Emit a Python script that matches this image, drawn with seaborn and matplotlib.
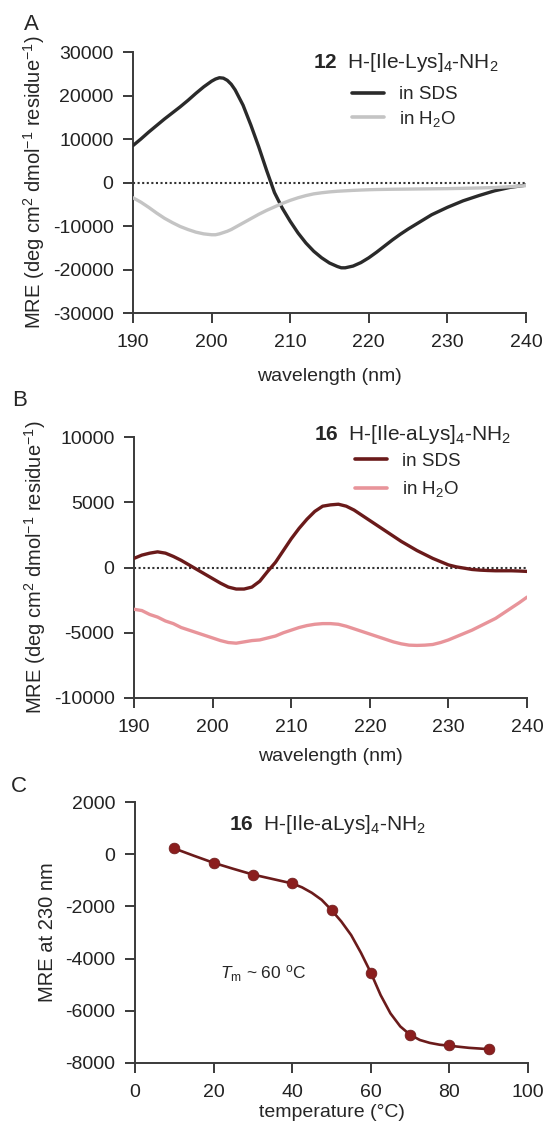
import numpy as np
import pandas as pd
import seaborn as sns
import matplotlib.pyplot as plt

# panel A: peptide 12, CD spectra
wl_a = [190, 191, 192, 193, 194, 195, 196, 197, 198, 199, 200, 200.5, 201, 201.5, 202,
        202.5, 203, 204, 205, 206, 207, 208, 209, 210, 211, 212, 213, 214, 215, 216,
        216.5, 217, 218, 219, 220, 221, 222, 223, 224, 225, 226, 228, 230, 232, 234,
        236, 238, 240]
sds_a = [8500, 10000, 11600, 13100, 14600, 16000, 17400, 18900, 20500, 22000, 23300,
         23800, 24100, 24000, 23500, 22600, 21300, 17800, 13200, 8200, 2800, -2300,
         -5900, -8900, -11600, -13900, -15800, -17300, -18500, -19300, -19600, -19600,
         -19200, -18400, -17300, -16000, -14600, -13200, -11900, -10700, -9600, -7400,
         -5700, -4200, -3000, -1900, -1100, -600]
h2o_a = [-3500, -4500, -5700, -7000, -8200, -9200, -10100, -10800, -11400, -11800,
         -12000, -12000, -11800, -11500, -11200, -10800, -10300, -9300, -8300, -7300,
         -6400, -5600, -4800, -4100, -3500, -3000, -2600, -2350, -2150, -2000, -1950,
         -1900, -1800, -1720, -1650, -1600, -1570, -1540, -1520, -1500, -1480, -1440,
         -1400, -1330, -1250, -1150, -950, -700]

# panel B: peptide 16, CD spectra
wl_b = [190, 191, 192, 193, 194, 195, 196, 197, 198, 199, 200, 201, 202, 203, 204, 205,
        206, 207, 208, 209, 210, 211, 212, 213, 214, 215, 216, 217, 218, 219, 220, 221,
        222, 223, 224, 225, 226, 227, 228, 229, 230, 231, 232, 233, 234, 235, 236, 237,
        238, 239, 240]
sds_b = [700, 950, 1100, 1200, 1100, 850, 550, 200, -150, -500, -850, -1200, -1500,
         -1650, -1650, -1500, -1050, -300, 400, 1300, 2200, 3000, 3700, 4300, 4700, 4800,
         4850, 4700, 4400, 4000, 3600, 3200, 2800, 2400, 2000, 1650, 1300, 1000, 700, 450,
         200, 50, -50, -150, -200, -230, -250, -250, -250, -270, -300]
h2o_b = [-3200, -3300, -3600, -3800, -4100, -4300, -4600, -4800, -5000, -5200, -5400,
         -5600, -5750, -5800, -5700, -5600, -5550, -5400, -5250, -5000, -4800, -4600,
         -4450, -4350, -4300, -4300, -4350, -4500, -4700, -4900, -5100, -5300, -5500,
         -5700, -5850, -5950, -5970, -5950, -5900, -5750, -5550, -5300, -5050, -4800,
         -4500, -4200, -3900, -3500, -3100, -2700, -2270]

# panel C: thermal melt at 230 nm
temp = [10, 20, 30, 40, 50, 60, 70, 80, 90]
mre230 = [220, -330, -780, -1120, -2140, -4540, -6920, -7330, -7470]
# fitted curve as drawn in the figure
fit_t = [10, 15, 20, 25, 30, 35, 40, 42.5, 45, 47.5, 50, 52.5, 55, 57.5, 60, 62.5, 65,
         67.5, 70, 72.5, 75, 77.5, 80, 85, 90]
fit_y = [220, -60, -330, -560, -780, -950, -1120, -1270, -1480, -1750, -2140, -2580,
         -3100, -3780, -4540, -5400, -6100, -6600, -6920, -7120, -7230, -7300, -7340,
         -7420, -7470]

sns.set_style('ticks')
plt.rcParams['font.family'] = ['Liberation Sans', 'DejaVu Sans']
plt.rcParams['mathtext.fontset'] = 'custom'
plt.rcParams['mathtext.rm'] = 'Liberation Sans'
plt.rcParams['mathtext.it'] = 'Liberation Sans:italic'
plt.rcParams['mathtext.bf'] = 'Liberation Sans:bold'
plt.rcParams['axes.unicode_minus'] = False

spine_col = '#3a3a3a'
fig = plt.figure(figsize=(5.47, 11.22), dpi=100)
axA = fig.add_axes([0.2431, 0.7210, 0.7185, 0.2326])
axB = fig.add_axes([0.2450, 0.3779, 0.7185, 0.2326])
axC = fig.add_axes([0.2468, 0.0526, 0.7185, 0.2326])

ylab = 'MRE (deg cm$^2$ dmol$^{-1}$ residue$^{-1}$)'


def style_axis(ax):
	sns.despine(ax=ax)
	for s in ['left', 'bottom']:
		ax.spines[s].set_color(spine_col)
		ax.spines[s].set_linewidth(1.4)
	ax.tick_params(direction='out', length=7, width=1.4, color=spine_col,
	               labelsize=14, labelcolor='#222222')
	ax.tick_params(axis='x', pad=8)
	ax.tick_params(axis='y', pad=7)


def spectrum(ax, wl, sds, h2o, cols, title, ylim, yticks, title_xy, leg_xy, spacing,
             xpad):
	df = pd.concat([
		pd.DataFrame({'wl': wl, 'mre': sds, 'cond': 'in SDS'}),
		pd.DataFrame({'wl': wl, 'mre': h2o, 'cond': 'in H$_2$O'})])
	ax.axhline(0, color='#333333', ls=(0, (1, 1.2)), lw=1.5, zorder=1)
	sns.lineplot(data=df, x='wl', y='mre', hue='cond', palette=cols, lw=2.4, ax=ax,
	             zorder=3)
	ax.set_xlim(190, 240)
	ax.set_ylim(*ylim)
	ax.set_xticks([190, 200, 210, 220, 230, 240])
	ax.set_yticks(yticks)
	ax.set_xlabel('wavelength (nm)', fontsize=14, labelpad=xpad)
	ax.set_ylabel(ylab, fontsize=14.5, labelpad=4)
	ax.text(*title_xy, title, transform=ax.transAxes, fontsize=15, ha='center',
	        va='center')
	leg = ax.legend(frameon=False, loc='upper left', bbox_to_anchor=leg_xy,
	                fontsize=13.5, handlelength=1.7, handletextpad=0.8,
	                labelspacing=spacing, borderaxespad=0, borderpad=0)
	for l in leg.get_lines():
		l.set_linewidth(2.6)
	style_axis(ax)


spectrum(axA, wl_a, sds_a, h2o_a, ['#2a2a2a', '#c4c4c4'],
         r'$\mathbf{12}$  H-[Ile-Lys]$_4$-NH$_2$', (-30000, 30000),
         [-30000, -20000, -10000, 0, 10000, 20000, 30000], (0.695, 0.96),
         (0.557, 0.87), 0.3, 12)
spectrum(axB, wl_b, sds_b, h2o_b, ['#6a1a1a', '#e8949a'],
         r'$\mathbf{16}$  H-[Ile-aLys]$_4$-NH$_2$', (-10000, 10000),
         [-10000, -5000, 0, 5000, 10000], (0.709, 1.01), (0.562, 0.94), 0.5, 9)

# panel C
sns.lineplot(x=fit_t, y=fit_y, color='#6b1b1b', lw=1.9, ax=axC, zorder=2)
sns.scatterplot(x=temp, y=mre230, color='#8b1e1e', s=60, edgecolor='#6b1b1b', lw=0.5,
                ax=axC, zorder=3)
axC.set_xlim(0, 100)
axC.set_ylim(-8000, 2000)
axC.set_xticks([0, 20, 40, 60, 80, 100])
axC.set_yticks([-8000, -6000, -4000, -2000, 0, 2000])
axC.set_xlabel('temperature (°C)', fontsize=14, labelpad=2)
axC.set_ylabel('MRE at 230 nm', fontsize=14.5, labelpad=6)
axC.text(49, 1120, r'$\mathbf{16}$  H-[Ile-aLys]$_4$-NH$_2$', fontsize=15, ha='center',
         va='center')
axC.text(32.5, -4580, r'$\mathit{T}_\mathrm{m}$ ~ 60 $^\mathrm{o}$C', fontsize=12.5,
         ha='center', va='center')
style_axis(axC)

for lab, x, y in [('A', 0.057, 0.978), ('B', 0.0366, 0.643), ('C', 0.035, 0.2986)]:
	fig.text(x, y, lab, fontsize=16, ha='center', va='center')

plt.savefig('out.png', dpi=100)
